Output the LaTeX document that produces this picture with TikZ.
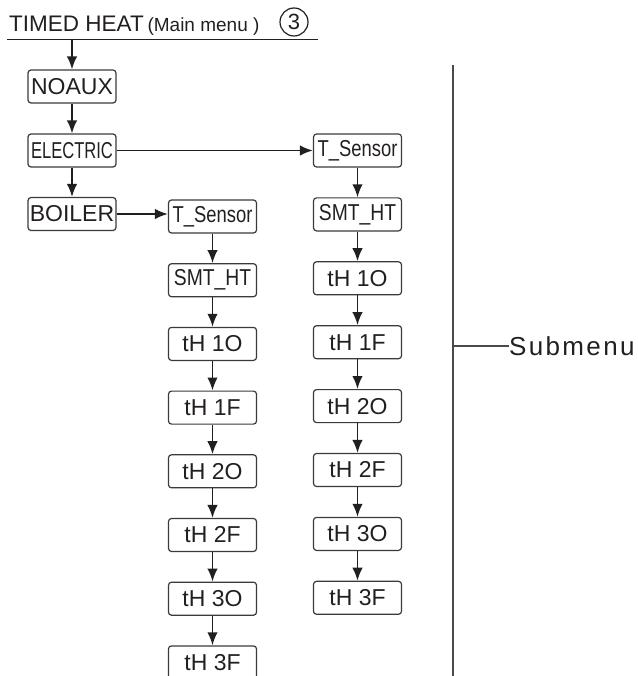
\documentclass[tikz,border=0pt]{standalone}
\usepackage{fontspec}
\setmainfont{Liberation Sans}
\usepackage{graphicx}
\usetikzlibrary{arrows.meta, positioning, calc}
\definecolor{tinta}{HTML}{231F20}
\definecolor{borde}{HTML}{3A3A3A}
\definecolor{raya}{HTML}{4A4A4A}
\tikzset{
  menu/.style={rectangle, rounded corners=3pt, minimum width=88pt, minimum height=33pt,
               inner sep=0pt, text centered, draw=borde, line width=1.2pt,
               font=\fontsize{23}{23}\selectfont, text=tinta},
  arrow/.style={line width=1.8pt, ->, >={Latex[length=13pt,width=10.5pt]}, color=tinta},
  linea/.style={line width=1.4pt, color=raya}
}

\begin{document}
\begin{tikzpicture}[x=1pt, y=-1pt]
  \useasboundingbox (0,0) rectangle (637,676);
  % titulo
  \node (tit) [anchor=base west, inner sep=0pt, text=tinta] at (9,32)
    {\fontsize{22.5}{22}\selectfont TIMED HEAT\,\fontsize{19}{19}\selectfont(Main menu )};
  \node (num) [circle, draw=tinta, line width=1.2pt, minimum size=28pt, inner sep=0pt,
    font=\fontsize{22}{22}\selectfont, text=tinta] at (294,22) {3};
  \draw [linea, color=tinta] (7,39.5) -- (318,39.5);
  \coordinate (raiz) at (72,39.5);
  % menu principal
  \node (noaux) [menu] at (72,86.5) {NOAUX};
  \node (elec) [menu] at (72,150.5) {\scalebox{0.72}[1]{ELECTRIC}};
  \node (boil) [menu] at (72,214) {BOILER};
  \draw [arrow] (raiz) -- (noaux);
  \draw [arrow] (noaux) -- (elec);
  \draw [arrow] (elec) -- (boil);
  % submenu de BOILER
  \node (tsb) [menu] at (212.5,216.5) {\scalebox{0.8}[1]{T\_Sensor}};
  \node (smtb) [menu] at (212.5,280.2) {\scalebox{0.84}[1]{SMT\_HT}};
  \node (b1o) [menu] at (212.5,343.9) {tH 1O};
  \node (b1f) [menu] at (212.5,407.6) {tH 1F};
  \node (b2o) [menu] at (212.5,471.3) {tH 2O};
  \node (b2f) [menu] at (212.5,535) {tH 2F};
  \node (b3o) [menu] at (212.5,598.7) {tH 3O};
  \node (b3f) [menu] at (212.5,662.4) {tH 3F};
  \draw [arrow] (boil.east) -- (boil.east -| tsb.west);
  \draw [arrow] (tsb) -- (smtb); \draw [arrow] (smtb) -- (b1o);
  \draw [arrow] (b1o) -- (b1f); \draw [arrow] (b1f) -- (b2o);
  \draw [arrow] (b2o) -- (b2f); \draw [arrow] (b2f) -- (b3o);
  \draw [arrow] (b3o) -- (b3f);
  % submenu de ELECTRIC
  \node (tse) [menu] at (357.5,150.5) {\scalebox{0.8}[1]{T\_Sensor}};
  \node (smte) [menu] at (357.5,214.4) {\scalebox{0.84}[1]{SMT\_HT}};
  \node (e1o) [menu] at (357.5,278.3) {tH 1O};
  \node (e1f) [menu] at (357.5,342.2) {tH 1F};
  \node (e2o) [menu] at (357.5,406.1) {tH 2O};
  \node (e2f) [menu] at (357.5,470) {tH 2F};
  \node (e3o) [menu] at (357.5,533.9) {tH 3O};
  \node (e3f) [menu] at (357.5,597.8) {tH 3F};
  \draw [arrow] (elec) -- (tse);
  \draw [arrow] (tse) -- (smte); \draw [arrow] (smte) -- (e1o);
  \draw [arrow] (e1o) -- (e1f); \draw [arrow] (e1f) -- (e2o);
  \draw [arrow] (e2o) -- (e2f); \draw [arrow] (e2f) -- (e3o);
  \draw [arrow] (e3o) -- (e3f);
  % llave de submenu
  \draw [linea, line width=1.9pt] (453,65) -- (453,680);
  \coordinate (toque) at (453,346);
  \node (sub) [anchor=west, inner sep=0pt, text=tinta,
    font=\fontsize{26}{26}\selectfont\addfontfeature{LetterSpace=9}] at (509,346) {Submenu};
  \draw [linea, line width=1.2pt] (toque) -- (sub.west);
\end{tikzpicture}
\end{document}
